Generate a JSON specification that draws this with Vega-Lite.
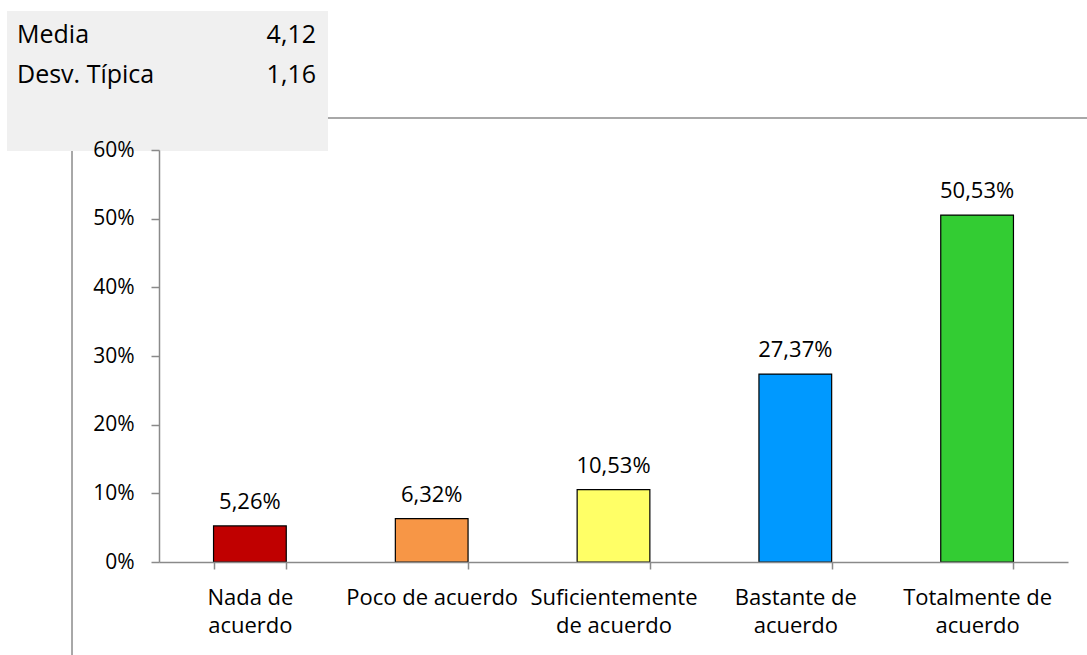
{
  "$schema": "https://vega.github.io/schema/vega-lite/v6.json",
  "width": 909,
  "height": 412,
  "autosize": {"type": "none"},
  "padding": {"left": 159, "top": 150, "right": 19, "bottom": 93},
  "background": "white",
  "config": {
    "view": {"stroke": null},
    "font": "Open Sans",
    "locale": {"number": {"decimal": ",", "thousands": ".", "grouping": [3], "currency": ["", " €"]}}
  },
  "datasets": {
    "respuestas": [
      {"respuesta": "Nada de acuerdo", "porcentaje": 0.0526},
      {"respuesta": "Poco de acuerdo", "porcentaje": 0.0632},
      {"respuesta": "Suficientemente de acuerdo", "porcentaje": 0.1053},
      {"respuesta": "Bastante de acuerdo", "porcentaje": 0.2737},
      {"respuesta": "Totalmente de acuerdo", "porcentaje": 0.5053}
    ],
    "estadisticos": [
      {"estadistico": "Media", "valor": 4.12},
      {"estadistico": "Desv. Típica", "valor": 1.16}
    ]
  },
  "layer": [
    {
      "data": {"values": [{}]},
      "mark": {"type": "rect", "fill": "transparent", "stroke": "#8c8c8c", "strokeWidth": 1.5},
      "encoding": {
        "x": {"datum": -0.0957, "type": "quantitative", "scale": {"domain": [0, 1], "nice": false, "zero": false}, "axis": null},
        "x2": {"datum": 1.035},
        "y": {"datum": 0.6466, "type": "quantitative", "scale": {"domain": [0, 0.6], "nice": false, "zero": false}, "axis": null},
        "y2": {"datum": -0.201}
      }
    },
    {
      "data": {"values": [{}]},
      "mark": {"type": "rect", "fill": "#f0f0f0", "stroke": null},
      "encoding": {
        "x": {"datum": -0.1672, "type": "quantitative", "scale": {"domain": [0, 1], "nice": false, "zero": false}, "axis": null},
        "x2": {"datum": 0.1859},
        "y": {"datum": 0.8024, "type": "quantitative", "scale": {"domain": [0, 0.6], "nice": false, "zero": false}, "axis": null},
        "y2": {"datum": 0.5985}
      }
    },
    {
      "data": {"name": "respuestas"},
      "mark": {"type": "bar", "stroke": "black", "strokeWidth": 1.2},
      "encoding": {
        "x": {
          "field": "respuesta", "type": "nominal", "sort": null,
          "scale": {"paddingInner": 0.6, "paddingOuter": 0.3},
          "axis": {
            "title": null, "labelAngle": 0, "tickBand": "extent", "grid": false,
            "domainColor": "#8a8a8a", "domainWidth": 1.5, "tickColor": "#8a8a8a", "tickWidth": 1.5, "tickSize": 7,
            "labelFont": "Open Sans", "labelFontSize": 22, "labelColor": "black", "labelPadding": 18,
            "labelLineHeight": 28, "labelLimit": 400, "labelOverlap": false, "zindex": 1,
            "labelExpr": "datum.label == 'Nada de acuerdo' ? ['Nada de', 'acuerdo'] : datum.label == 'Suficientemente de acuerdo' ? ['Suficientemente', 'de acuerdo'] : datum.label == 'Bastante de acuerdo' ? ['Bastante de', 'acuerdo'] : datum.label == 'Totalmente de acuerdo' ? ['Totalmente de', 'acuerdo'] : datum.label"
          }
        },
        "y": {
          "field": "porcentaje", "type": "quantitative",
          "scale": {"domain": [0, 0.6], "nice": false},
          "axis": {
            "title": null, "values": [0, 0.1, 0.2, 0.3, 0.4, 0.5, 0.6], "format": ".0%", "grid": false,
            "domainColor": "#8a8a8a", "domainWidth": 1.5, "tickColor": "#8a8a8a", "tickWidth": 1.5, "tickSize": 8,
            "labelFont": "Open Sans", "labelFontSize": 21, "labelColor": "black", "labelPadding": 17, "zindex": 1
          }
        },
        "color": {
          "field": "respuesta", "type": "nominal", "sort": null,
          "scale": {
            "domain": ["Nada de acuerdo", "Poco de acuerdo", "Suficientemente de acuerdo", "Bastante de acuerdo", "Totalmente de acuerdo"],
            "range": ["#c00000", "#f79646", "#ffff66", "#0099ff", "#33cc33"]
          },
          "legend": null
        }
      }
    },
    {
      "data": {"name": "respuestas"},
      "mark": {"type": "text", "baseline": "alphabetic", "dy": -17, "fontSize": 22, "color": "black"},
      "encoding": {
        "x": {"field": "respuesta", "type": "nominal", "sort": null, "scale": {"paddingInner": 0.6, "paddingOuter": 0.3}, "axis": null},
        "y": {"field": "porcentaje", "type": "quantitative", "scale": {"domain": [0, 0.6], "nice": false}, "axis": null},
        "text": {"field": "porcentaje", "format": ".2%"}
      }
    },
    {
      "data": {"name": "estadisticos"},
      "encoding": {
        "y": {"field": "estadistico", "type": "nominal", "sort": null, "scale": {"type": "point", "range": [-107, -67], "padding": 0}, "axis": null}
      },
      "layer": [
        {
          "mark": {"type": "text", "align": "left", "baseline": "alphabetic", "fontSize": 25, "color": "black"},
          "encoding": {
            "x": {"datum": -0.1562, "type": "quantitative", "scale": {"domain": [0, 1], "nice": false, "zero": false}, "axis": null},
            "text": {"field": "estadistico"}
          }
        },
        {
          "mark": {"type": "text", "align": "right", "baseline": "alphabetic", "fontSize": 25, "color": "black"},
          "encoding": {
            "x": {"datum": 0.1727, "type": "quantitative"},
            "text": {"field": "valor", "format": ".2f"}
          }
        }
      ]
    }
  ],
  "resolve": {
    "scale": {"x": "independent", "y": "independent"},
    "axis": {"x": "independent", "y": "independent"}
  }
}
